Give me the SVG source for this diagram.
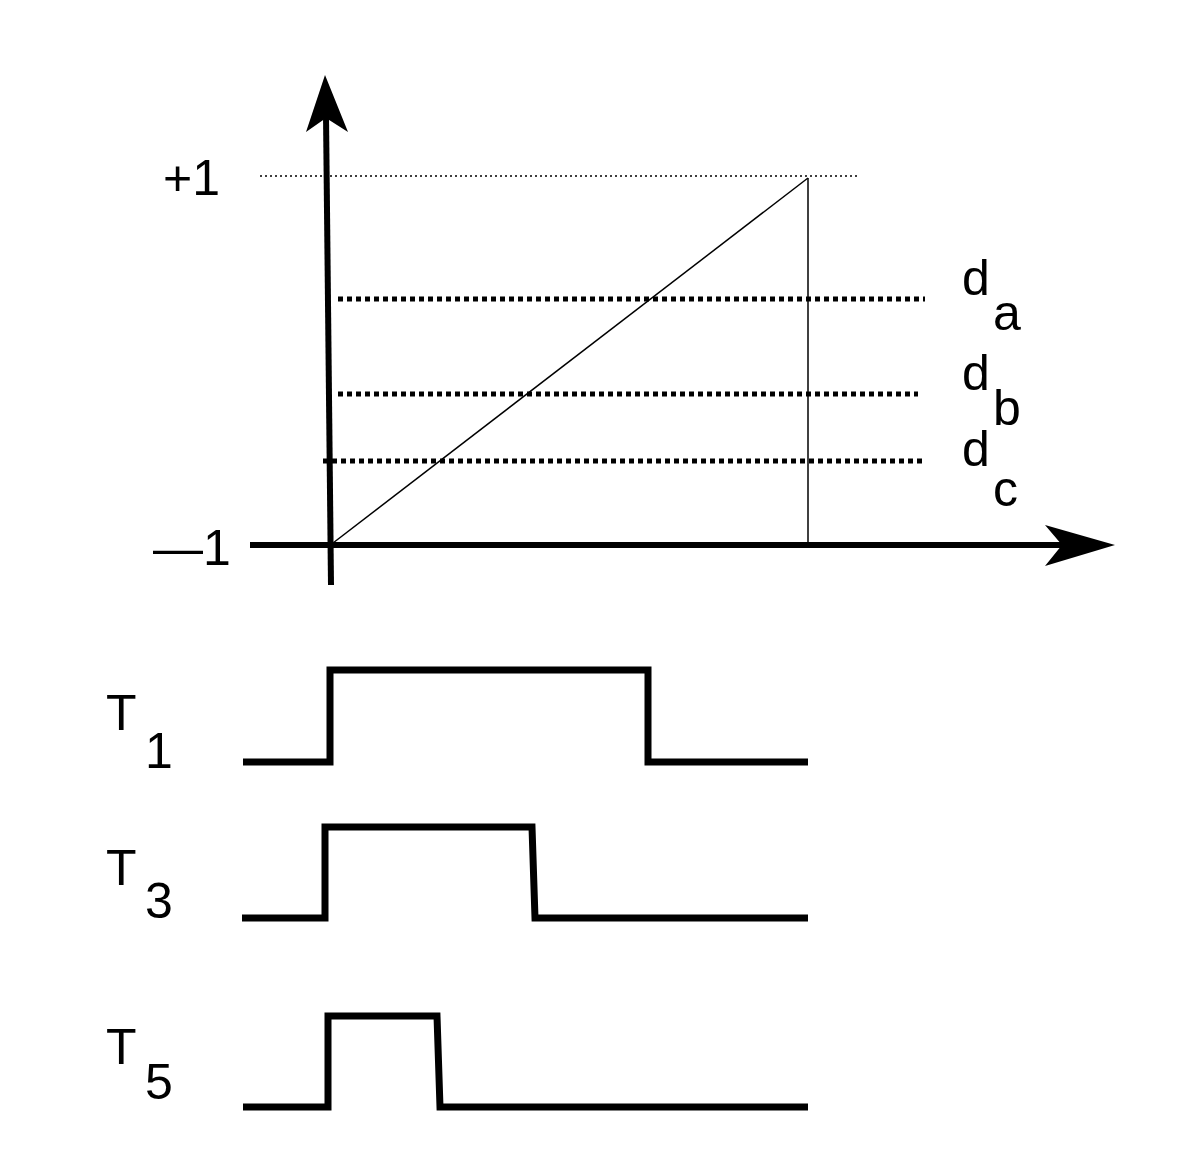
<svg xmlns="http://www.w3.org/2000/svg" width="1188" height="1162" viewBox="0 0 1188 1162">
<style>
text{font-family:"Liberation Sans",Arial,sans-serif;font-size:50px;fill:#000}
.dot{stroke:#000;stroke-width:5;stroke-dasharray:5 4;fill:none}
.wave{stroke:#000;stroke-width:7;fill:none}
.thin{stroke:#000;stroke-width:1.5;fill:none}
</style>
<rect width="1188" height="1162" fill="#fff"/>
<g id="connectors">
<line class="thin" x1="260" y1="176" x2="860" y2="176" stroke-dasharray="2 3" stroke-width="1.2"/>
<line class="thin" x1="333" y1="543" x2="808" y2="178"/>
<line class="thin" x1="808" y1="178" x2="808" y2="545"/>
<line class="dot" x1="338" y1="299" x2="925" y2="299"/>
<line class="dot" x1="338" y1="394" x2="918" y2="394"/>
<line class="dot" x1="323" y1="461" x2="925" y2="461"/>
</g>
<g id="y-axis">
<line x1="331" y1="585" x2="326" y2="115" stroke="#000" stroke-width="6"/>
<polygon points="325,75 348,132 326,118 306,132" fill="#000"/>
</g>
<g id="x-axis">
<line x1="250" y1="545" x2="1075" y2="545" stroke="#000" stroke-width="6"/>
<polygon points="1115,545 1045,525 1062,545 1045,566" fill="#000"/>
</g>
<g id="labels">
<text x="163" y="195">+1</text>
<text x="153" y="565">—1</text>
<text x="962" y="295">d</text><text x="993" y="330">a</text>
<text x="962" y="390">d</text><text x="993" y="425">b</text>
<text x="962" y="466">d</text><text x="993" y="506">c</text>
</g>
<g id="T1">
<polyline class="wave" points="243,762 330,762 330,670 648,670 648,762 808,762"/>
<text x="106" y="730">T</text><text x="145" y="768">1</text>
</g>
<g id="T3">
<polyline class="wave" points="242,918 325,918 325,827 532,827 535,918 808,918"/>
<text x="106" y="885">T</text><text x="145" y="918">3</text>
</g>
<g id="T5">
<polyline class="wave" points="243,1107 328,1107 328,1016 437,1016 440,1107 808,1107"/>
<text x="106" y="1064">T</text><text x="145" y="1099">5</text>
</g>
</svg>
